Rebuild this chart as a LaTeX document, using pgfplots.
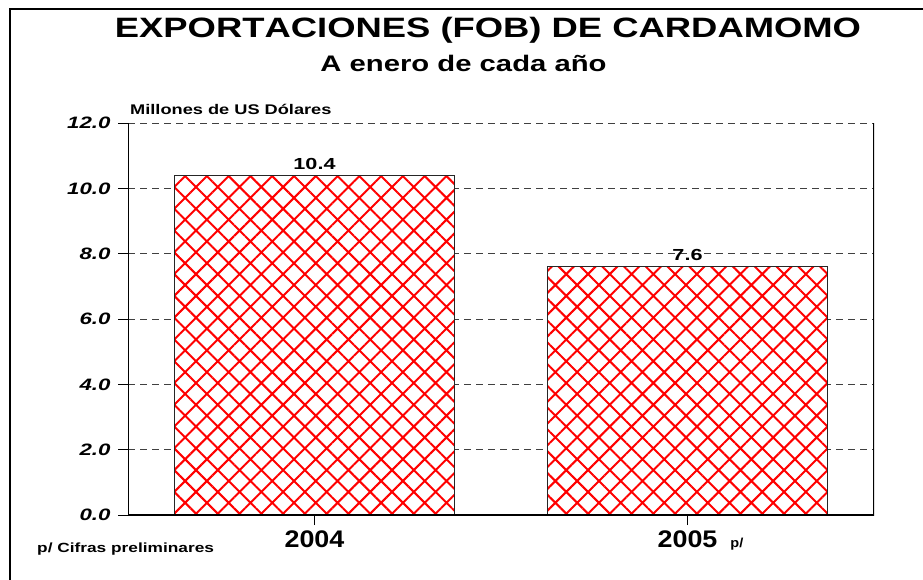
\documentclass[border=0pt]{standalone}
\usepackage{fontspec}
\usepackage{pgfplots}
\pgfplotsset{compat=1.18}
\usetikzlibrary{patterns.meta}
\newfontfamily\fA{Liberation Sans}[FakeStretch=1.3,Kerning=Off]
\newfontfamily\fB{Liberation Sans}[FakeStretch=1.12]
\newfontfamily\fC{Liberation Sans}[FakeStretch=1.35]
\setmainfont{Liberation Sans}
\begin{document}
\begin{tikzpicture}[x=1pt,y=1pt]
\useasboundingbox (0,0) rectangle (923,579);
\fill[white] (0,0) rectangle (923,579);
\draw[black, line width=2.5pt] (10,-10) -- (10,570) -- (935,570);
\node[anchor=base] at (488,541) {\fA\bfseries\fontsize{28}{28}\selectfont EXPORTACIONES (FOB) DE CARDAMOMO};
\node[anchor=base] at (463.5,507) {\fA\bfseries\fontsize{22.5}{22.5}\selectfont A enero de cada año};
\node[anchor=base west, inner sep=0pt] at (130,464) {\fA\bfseries\fontsize{14}{14}\selectfont Millones de US Dólares};
\node[anchor=base west, inner sep=0pt] at (37,27) {\fA\bfseries\fontsize{13.3}{13.3}\selectfont p/ Cifras preliminares};
\begin{axis}[
  at={(128pt,64pt)}, anchor=south west,
  scale only axis, width=746pt, height=392pt,
  xmin=-0.5, xmax=1.5, ymin=0, ymax=12,
  xtick={0,1},
  xticklabels={2004,{2005\rlap{\hspace{13pt}\fontsize{13}{13}\selectfont p/}}},
  ytick={0,2,4,6,8,10,12},
  yticklabel={\pgfmathprintnumber{\tick}},
  /pgf/number format/.cd, fixed, zerofill, precision=1, assume math mode=true,
  /pgfplots/.cd,
  xtick pos=bottom, ytick pos=left,
  tick align=outside, major tick length=10pt,
  tick style={black, line width=0.8pt},
  axis line style={draw=none},
  ymajorgrids,
  grid style={black!75, line width=0.8pt, dash pattern=on 7pt off 5pt},
  xticklabel style={font=\fB\bfseries\fontsize{24}{24}\selectfont, anchor=base, yshift=-22pt},
  yticklabel style={font=\fC\bfseries\itshape\fontsize{16.5}{16.5}\selectfont, anchor=east, xshift=-4pt},
  nodes near coords,
  every node near coord/.append style={font=\fC\bfseries\fontsize{16}{16}\selectfont, anchor=base, yshift=6pt},
  point meta=explicit symbolic,
]
\addplot[ybar, bar width=280pt, draw=black!85, line width=0.8pt, fill=white,
  postaction={pattern={Hatch[angle=45,distance=15.4pt,line width=2pt]}, pattern color=red}]
  coordinates {(0,10.4)[10.4] (1,7.6)[7.6]};
\draw[black, line width=1.2pt] (rel axis cs:0,1) -- (rel axis cs:0,0) -- (rel axis cs:1,0) -- (rel axis cs:1,1);
\end{axis}
\end{tikzpicture}
\end{document}
